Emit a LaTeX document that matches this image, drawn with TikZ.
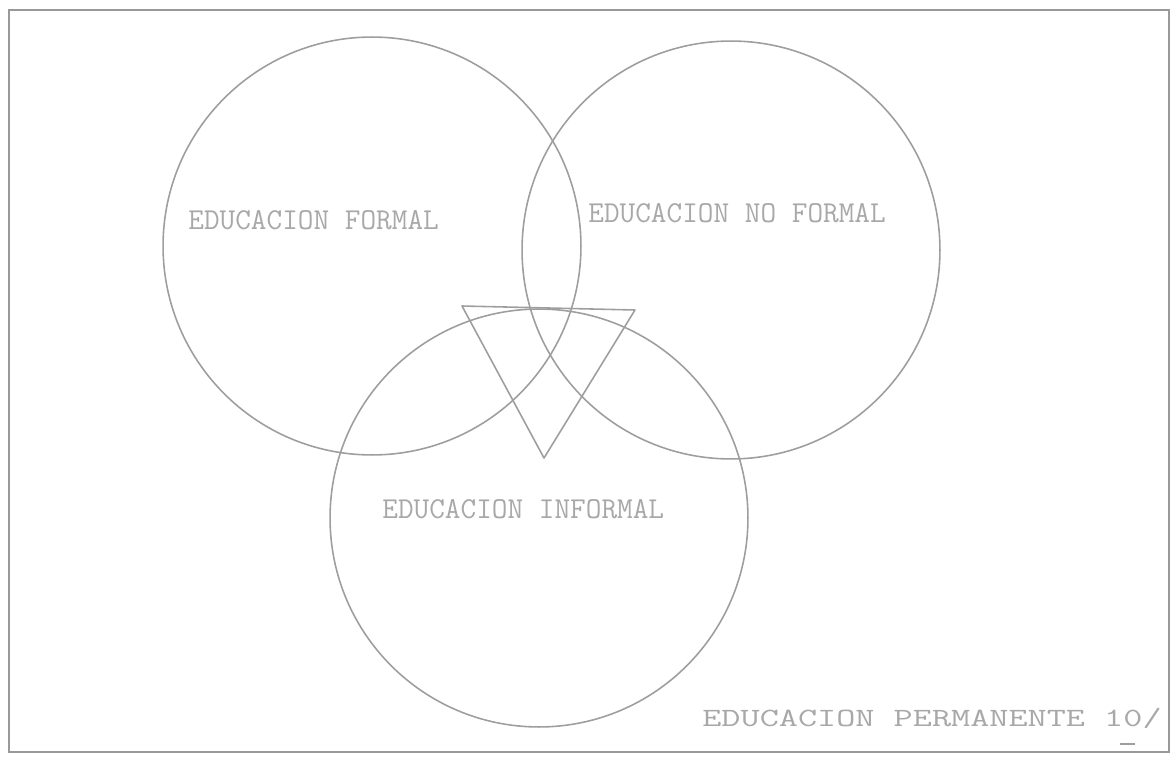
\documentclass[tikz,border=0pt]{standalone}
\usepackage{fontspec}
\usetikzlibrary{positioning}
\definecolor{edLine}{gray}{0.62}
\definecolor{edText}{gray}{0.66}
\definecolor{edFrame}{gray}{0.6}
\tikzset{
  edcircle/.style={circle, draw=edLine, line width=0.9pt, minimum size=8.36cm, inner sep=0pt},
  edlabel/.style={anchor=base west, inner sep=0pt, text=edText, font=\ttfamily\fontsize{17.3}{17.3}\selectfont},
  edstroke/.style={draw=edLine, line width=0.9pt, line join=round},
}
\begin{document}
\begin{tikzpicture}[x=0.02cm, y=-0.02cm]
  \useasboundingbox (0,0) rectangle (1174,757);
  % marco
  \draw[edFrame, line width=1pt] (9,10) rectangle (1169,752);
  % circulos
  \node[edcircle](formal) at (372,246){};
  \node[edcircle](noformal) at (731,250){};
  \node[edcircle](informal) at (539,518){};
  % triangulo
  \coordinate (t1) at (462,306);
  \coordinate (t2) at (635,310);
  \coordinate (t3) at (544,458);
  \draw[edstroke] (t1) -- (t2) -- (t3) -- cycle;
  % textos
  \node[edlabel](lformal) at (188,230){EDUCACION FORMAL};
  \node[edlabel](lnoformal) at (588,222){EDUCACION NO FORMAL};
  \node[edlabel](linformal) at (382,518){EDUCACION INFORMAL};
  \node[edlabel, font=\ttfamily\fontsize{15}{15}\selectfont](lperm) at (702,726)
    {\scalebox{1.41}[1]{EDUCACION PERMANENTE 10/}};
  \draw[edstroke, line width=0.8pt] (1120,744) -- (1135,744);
\end{tikzpicture}
\end{document}
